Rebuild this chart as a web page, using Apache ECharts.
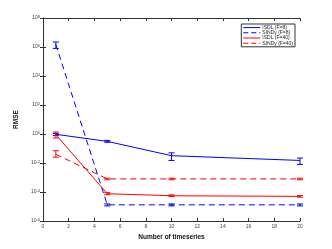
<!DOCTYPE html>
<html><head><meta charset="utf-8">
<script src="https://cdn.jsdelivr.net/npm/echarts@6/dist/echarts.min.js"></script>
<style>html,body{margin:0;padding:0;background:#fff}#c{width:332px;height:249px}</style>
</head><body><div id="c"></div>
<script>
const xValues = [1, 5, 10, 20];
const isdl8 = [0.95, 0.31, 0.032, 0.015];
const isdl8Lo = [0.8, 0.27, 0.015, 0.008];
const isdl8Hi = [1.1, 0.36, 0.05, 0.022];
const sindy8 = [1.5e6, 1.3e-5, 1.3e-5, 1.3e-5];
const sindy8Lo = [8e5, 1.1e-5, 1.1e-5, 1.1e-5];
const sindy8Hi = [2.2e6, 1.5e-5, 1.5e-5, 1.5e-5];
const isdl40 = [0.9, 7.6e-5, 5.5e-5, 5e-5];
const isdl40Lo = [0.53, 6.5e-5, 4.8e-5, 4.4e-5];
const isdl40Hi = [1.37, 9e-5, 6.3e-5, 5.7e-5];
const sindy40 = [0.04, 8e-4, 8e-4, 8e-4];
const sindy40Lo = [0.025, 7e-4, 7e-4, 7e-4];
const sindy40Hi = [0.07, 9e-4, 9e-4, 9e-4];
const names = ['ISDL (F=8)', 'SINDy (F=8)', 'ISDL (F=40)', 'SINDy (F=40)'];
const xLabel = 'Number of timeseries';
const yLabel = 'RMSE';

const BLUE = '#0000ff', RED = '#ff0000';
const colors = [BLUE, BLUE, RED, RED];
const dashed = [false, true, false, true];
const DASH_ICON = 'path://M0,0h5v1h-5zM8,0h5v1h-5zM16,0h1v1h-1z';
const SOLID_ICON = 'path://M0,0h17v1h-17z';
function pairs(ys) { return xValues.map((x, i) => [x, ys[i]]); }
function errData(lo, hi) { return xValues.map((x, i) => [x, lo[i], hi[i]]); }
function errSeries(lo, hi, color) {
  return {
    type: 'custom', silent: true, z: 3,
    data: errData(lo, hi),
    encode: { x: 0, y: [1, 2] },
    renderItem: function (params, api) {
      const a = api.coord([api.value(0), api.value(1)]);
      const b = api.coord([api.value(0), api.value(2)]);
      const w = 3;
      const st = { stroke: color, lineWidth: 1 };
      return { type: 'group', children: [
        { type: 'line', shape: { x1: a[0], y1: a[1], x2: b[0], y2: b[1] }, style: st },
        { type: 'line', shape: { x1: a[0] - w, y1: a[1], x2: a[0] + w, y2: a[1] }, style: st },
        { type: 'line', shape: { x1: b[0] - w, y1: b[1], x2: b[0] + w, y2: b[1] }, style: st }
      ]};
    }
  };
}
function lineSeries(i, ys) {
  return {
    name: names[i], type: 'line', data: pairs(ys), symbol: 'none',
    color: colors[i],
    lineStyle: { color: colors[i], width: 1, type: dashed[i] ? [6, 4] : 'solid' },
    itemStyle: { color: colors[i] }, z: 4
  };
}
const axisColor = '#333';
const labelColor = '#444';
const font = 'Liberation Sans, Arial, sans-serif';

const chart = echarts.init(document.getElementById('c'), null, { renderer: 'canvas' });
chart.setOption({
  animation: false,
  backgroundColor: '#fff',
  grid: { left: 43, right: 32, top: 18, bottom: 28 },
  legend: {
    data: names.map((n, i) => ({ name: n, icon: dashed[i] ? DASH_ICON : SOLID_ICON })),
    orient: 'vertical', right: 37, top: 24,
    itemWidth: 17, itemHeight: 1, itemGap: 0,
    padding: [1, 2, 1, 2],
    borderColor: '#333', borderWidth: 1, backgroundColor: '#fff',
    textStyle: { fontSize: 5, lineHeight: 5.2, color: '#222', fontFamily: font, padding: [0, 0, 0, -3] }
  },
  xAxis: [{
    type: 'value', min: 0, max: 20, interval: 2,
    name: xLabel, nameLocation: 'middle', nameGap: 11,
    nameTextStyle: { fontSize: 6.5, fontWeight: 'bold', color: '#111', fontFamily: font },
    axisLine: { lineStyle: { color: axisColor, width: 1 } },
    axisTick: { inside: true, length: 3, lineStyle: { color: axisColor } },
    axisLabel: { fontSize: 5, color: labelColor, margin: 3, fontFamily: font },
    splitLine: { show: false }
  }, {
    type: 'value', min: 0, max: 20, interval: 2, position: 'top',
    axisLine: { lineStyle: { color: axisColor, width: 1 } },
    axisTick: { inside: true, length: 3, lineStyle: { color: axisColor } },
    axisLabel: { show: false }, splitLine: { show: false }
  }],
  yAxis: [{
    type: 'log', logBase: 10, min: 1e-6, max: 1e8, interval: 2,
    name: yLabel, nameLocation: 'middle', nameGap: 14, nameRotate: 90,
    nameTextStyle: { fontSize: 6.5, fontWeight: 'bold', color: '#111', fontFamily: font },
    axisLine: { show: true, lineStyle: { color: axisColor, width: 1 } },
    axisTick: { inside: true, length: 3, lineStyle: { color: axisColor } },
    axisLabel: {
      fontSize: 5, color: labelColor, margin: 3, fontFamily: font,
      formatter: function (v) {
        const e = Math.round(Math.log10(v));
        return '10{s|' + e + '}';
      },
      rich: { s: { fontSize: 4, color: labelColor, verticalAlign: 'top', padding: [0, 0, 3, 0] } }
    },
    splitLine: { show: false }
  }, {
    type: 'log', logBase: 10, min: 1e-6, max: 1e8, interval: 2, position: 'right',
    axisLine: { show: true, lineStyle: { color: axisColor, width: 1 } },
    axisTick: { inside: true, length: 3, lineStyle: { color: axisColor } },
    axisLabel: { show: false }, splitLine: { show: false }
  }],
  series: [
    lineSeries(0, isdl8),
    lineSeries(1, sindy8),
    lineSeries(2, isdl40),
    lineSeries(3, sindy40),
    errSeries(isdl8Lo, isdl8Hi, BLUE),
    errSeries(sindy8Lo, sindy8Hi, BLUE),
    errSeries(isdl40Lo, isdl40Hi, RED),
    errSeries(sindy40Lo, sindy40Hi, RED)
  ]
});
</script></body></html>
